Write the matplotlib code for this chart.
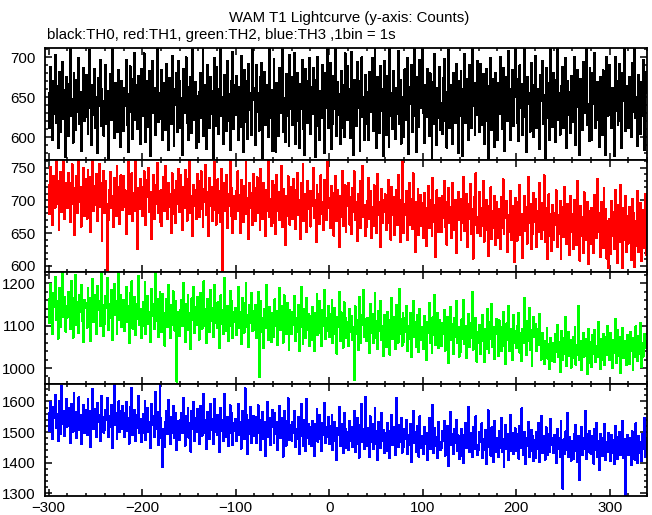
# WAM T1 lightcurve, four energy channels stacked, 1 s bins
import numpy as np
import matplotlib.pyplot as plt
from matplotlib.ticker import MultipleLocator

plt.rcParams['font.family'] = ['Liberation Sans', 'DejaVu Sans']

t0 = -300  # start time of the first bin (s)

th0 = [
    655, 612, 688, 641, 597, 670, 629, 703, 618, 664, 586, 649, 682, 607, 638, 694, 623, 659, 575, 676,
    634, 601, 667, 715, 626, 648, 593, 681, 644, 609, 672, 631, 699, 616, 657, 583, 642, 687, 620, 663,
    678, 625, 604, 653, 709, 637, 590, 666, 628, 685, 611, 650, 580, 674, 639, 697, 614, 660, 633, 602,
    646, 691, 617, 658, 574, 635, 679, 622, 712, 650, 599, 668, 627, 645, 606, 684, 652, 588, 671, 630,
    608, 662, 639, 697, 615, 581, 654, 689, 632, 673, 598, 640, 706, 621, 665, 610, 677, 643, 592, 686,
    660, 626, 705, 636, 594, 670, 648, 613, 683, 577, 651, 695, 630, 662, 603, 641, 714, 619, 656, 637,
    623, 684, 597, 647, 668, 609, 692, 635, 584, 674, 653, 616, 702, 628, 589, 661, 640, 680, 606, 695,
    671, 611, 649, 578, 686, 630, 655, 700, 618, 663, 596, 639, 676, 605, 720, 644, 621, 669, 587, 652,
    594, 657, 681, 624, 643, 710, 601, 666, 633, 585, 690, 645, 612, 675, 629, 658, 573, 699, 637, 614,
    688, 633, 604, 661, 719, 626, 650, 591, 678, 642, 608, 696, 620, 654, 584, 671, 636, 707, 610, 665,
    628, 677, 645, 596, 663, 613, 702, 640, 581, 684, 651, 619, 670, 598, 692, 634, 656, 603, 717, 646,
    662, 590, 690, 631, 656, 608, 675, 627, 693, 574, 647, 682, 615, 666, 637, 600, 713, 624, 659, 583,
    641, 698, 618, 582, 668, 644, 601, 687, 630, 655, 711, 607, 649, 594, 679, 626, 664, 589, 703, 635,
    676, 615, 653, 706, 592, 639, 680, 620, 587, 667, 635, 697, 610, 643, 578, 685, 652, 618, 671, 699,
    604, 663, 629, 687, 648, 575, 672, 614, 701, 638, 596, 658, 624, 691, 647, 580, 681, 636, 715, 612,
    650, 693, 585, 641, 617, 677, 635, 719, 602, 669, 628, 654, 591, 683, 612, 666, 600, 705, 642, 622,
    689, 622, 661, 599, 707, 634, 578, 672, 648, 614, 694, 637, 670, 583, 658, 700, 625, 651, 597, 678,
    617, 657, 596, 682, 631, 664, 699, 608, 646, 716, 622, 586, 675, 640, 605, 689, 633, 660, 576, 696,
    668, 603, 677, 644, 588, 712, 627, 656, 610, 683, 641, 598, 662, 629, 708, 616, 672, 592, 650, 631,
    600, 685, 638, 621, 699, 579, 663, 642, 690, 606, 654, 715, 626, 581, 676, 645, 613, 697, 637, 659,
    711, 630, 593, 666, 625, 686, 651, 601, 680, 636, 572, 669, 616, 704, 648, 590, 662, 624, 688, 609,
    643, 604, 674, 698, 620, 657, 587, 640, 709, 612, 666, 633, 592, 681, 655, 618, 692, 645, 580, 670,
    626, 683, 647, 576, 661, 704, 618, 673, 634, 597, 690, 653, 612, 717, 639, 668, 603, 656, 628, 696,
    658, 607, 692, 633, 615, 679, 591, 646, 685, 620, 562, 664, 630, 699, 609, 673, 646, 588, 681, 632,
    597, 668, 629, 701, 643, 610, 687, 652, 583, 675, 639, 620, 708, 635, 597, 661, 684, 614, 650, 719,
    673, 618, 654, 595, 690, 636, 667, 603, 648, 712, 625, 581, 676, 641, 656, 607, 693, 630, 665, 600,
    636, 702, 611, 660, 628, 585, 678, 645, 696, 617, 653, 574, 687, 624, 668, 639, 597, 712, 649, 613,
    681, 640, 594, 672, 715, 621, 656, 603, 664, 633, 688, 612, 645, 699, 586, 670, 628, 657, 605, 677,
    619, 665, 701, 627, 590, 651, 684, 638, 578, 673, 648, 609, 694, 630, 661, 716, 615, 642, 595, 687,
    654, 596, 680, 641, 706, 611, 637, 669, 622, 588, 676, 652, 603, 684, 634, 657, 578, 700, 626, 663,
    690, 628, 612, 662, 646, 577, 700, 633, 671, 615, 655, 692, 620, 587, 681, 645, 713, 608, 664, 637,
    611, 675, 647, 600, 693, 632, 659, 720, 624, 651, 589, 678, 642, 604, 669, 627, 697, 584, 655, 682,
]

th1 = [
    724, 679, 751, 700, 663, 737, 712, 689, 766, 695, 730, 654, 716, 743, 682, 705, 760, 671, 727, 693,
    688, 742, 710, 667, 726, 755, 694, 719, 647, 703, 737, 681, 764, 698, 721, 660, 714, 749, 676, 733,
    717, 672, 746, 698, 735, 651, 709, 761, 684, 722, 693, 740, 669, 711, 756, 690, 726, 638, 701, 745,
    681, 729, 695, 594, 670, 716, 743, 688, 707, 659, 734, 700, 676, 752, 692, 720, 664, 738, 706, 685,
    737, 690, 715, 648, 703, 758, 679, 724, 696, 741, 668, 711, 684, 762, 698, 625, 719, 686, 733, 707,
    676, 720, 744, 693, 662, 731, 705, 750, 682, 713, 641, 699, 739, 671, 723, 694, 757, 680, 710, 667,
    715, 661, 702, 736, 684, 753, 698, 671, 726, 690, 709, 650, 741, 717, 679, 703, 665, 730, 694, 748,
    682, 738, 700, 655, 721, 688, 747, 710, 669, 733, 697, 762, 680, 706, 645, 724, 691, 715, 672, 740,
    729, 675, 706, 744, 687, 660, 718, 697, 754, 678, 712, 646, 734, 692, 720, 669, 702, 759, 685, 663,
    703, 732, 680, 714, 667, 748, 592, 699, 726, 683, 739, 657, 710, 691, 762, 676, 719, 650, 706, 688,
    672, 715, 744, 684, 708, 650, 731, 693, 667, 722, 697, 758, 679, 704, 641, 726, 688, 711, 662, 740,
    719, 668, 697, 735, 680, 711, 655, 748, 690, 672, 727, 699, 645, 716, 684, 760, 675, 702, 661, 730,
    666, 724, 701, 648, 739, 683, 712, 670, 697, 752, 659, 718, 689, 631, 707, 676, 737, 694, 663, 721,
    705, 671, 733, 689, 656, 716, 742, 677, 700, 641, 726, 683, 756, 668, 710, 693, 651, 729, 687, 714,
    660, 714, 691, 749, 673, 701, 636, 724, 685, 709, 664, 738, 679, 697, 655, 731, 694, 670, 759, 688,
    703, 657, 722, 684, 711, 646, 695, 737, 668, 716, 690, 629, 706, 675, 745, 661, 699, 723, 652, 712,
    691, 726, 663, 705, 649, 719, 682, 744, 670, 698, 638, 710, 686, 729, 657, 702, 753, 675, 693, 646,
    660, 699, 734, 672, 714, 643, 690, 661, 723, 684, 706, 650, 740, 677, 697, 628, 718, 665, 701, 682,
    709, 655, 688, 731, 666, 697, 640, 721, 678, 705, 647, 689, 716, 662, 738, 681, 636, 700, 760, 671,
    650, 694, 677, 714, 639, 685, 727, 663, 702, 656, 741, 680, 621, 697, 669, 718, 647, 690, 708, 661,
    696, 642, 711, 674, 630, 689, 722, 658, 700, 680, 645, 734, 667, 693, 614, 715, 676, 651, 703, 684,
    652, 707, 673, 730, 660, 688, 632, 698, 719, 665, 690, 643, 727, 676, 654, 701, 620, 684, 713, 670,
    689, 640, 702, 666, 736, 653, 680, 710, 629, 694, 672, 725, 648, 686, 611, 705, 663, 741, 675, 650,
    672, 713, 645, 688, 661, 729, 637, 678, 701, 655, 615, 692, 668, 720, 641, 683, 657, 706, 631, 697,
    642, 687, 669, 626, 705, 658, 732, 649, 684, 673, 699, 621, 678, 651, 714, 639, 692, 666, 606, 703,
    686, 638, 697, 660, 724, 647, 679, 612, 671, 707, 653, 690, 634, 735, 665, 694, 625, 680, 648, 711,
    667, 702, 628, 684, 651, 727, 663, 641, 696, 655, 738, 637, 688, 674, 610, 709, 646, 679, 622, 693,
    640, 681, 662, 715, 629, 677, 649, 699, 611, 668, 690, 644, 721, 657, 633, 694, 672, 617, 706, 652,
    679, 626, 701, 650, 685, 632, 729, 661, 608, 692, 645, 675, 620, 712, 664, 639, 698, 603, 683, 657,
    633, 689, 660, 619, 708, 670, 642, 733, 651, 680, 614, 697, 658, 627, 719, 644, 686, 611, 668, 596,
    671, 618, 699, 646, 682, 625, 716, 657, 604, 693, 662, 636, 724, 650, 597, 688, 640, 707, 621, 676,
    634, 690, 655, 609, 702, 644, 681, 598, 669, 630, 714, 621, 662, 696, 607, 685, 648, 627, 709, 616,
]

th2 = [
    1162, 1105, 1198, 1131, 1079, 1177, 1143, 1214, 1112, 1158, 1069, 1135, 1189, 1097, 1151, 1226, 1120, 1167, 1086, 1145,
    1119, 1180, 1137, 1092, 1205, 1148, 1071, 1164, 1126, 1219, 1101, 1155, 1083, 1173, 1132, 1196, 1110, 1061, 1160, 1142,
    1153, 1095, 1188, 1127, 1166, 1063, 1140, 1209, 1108, 1171, 1122, 1080, 1194, 1136, 1157, 1099, 1231, 1117, 1148, 1075,
    1104, 1169, 1141, 1212, 1090, 1150, 1117, 1183, 1066, 1136, 1199, 1124, 1159, 1081, 1143, 1224, 1113, 1172, 1096, 1138,
    1160, 1087, 1132, 1190, 1109, 1147, 1059, 1176, 1121, 1204, 1093, 1138, 1167, 1077, 1152, 1115, 1217, 1102, 1140, 1071,
    1098, 1156, 1117, 1203, 1080, 1141, 1169, 1104, 1133, 1062, 1186, 1123, 1150, 1091, 1227, 1110, 1162, 1072, 1136, 1179,
    1140, 1085, 1174, 1107, 1053, 1129, 1163, 1096, 1195, 1117, 1070, 1148, 1102, 1181, 1124, 1088, 1158, 968, 1133, 1092,
    1076, 1137, 1160, 1098, 1200, 1119, 1061, 1152, 1107, 1173, 1089, 1129, 1045, 1164, 1113, 1191, 1082, 1144, 1101, 1168,
    1128, 1067, 1177, 1116, 1092, 1150, 1204, 1100, 1139, 1058, 1163, 1123, 1085, 1185, 1110, 1141, 1072, 1196, 1105, 1134,
    1094, 1155, 1120, 1047, 1171, 1103, 1136, 1079, 1212, 1115, 1088, 1147, 1064, 1126, 1182, 1099, 1158, 1070, 1131, 1108,
    1141, 1078, 1119, 1190, 1095, 1132, 1056, 1166, 1112, 1083, 1153, 1201, 1097, 1124, 1049, 1149, 1106, 1177, 1087, 1135,
    1090, 1148, 1071, 1126, 1180, 978, 1102, 1157, 1084, 1119, 1046, 1139, 1094, 1195, 1108, 1067, 1143, 1115, 1062, 1129,
    1117, 1074, 1162, 1098, 1135, 1055, 1121, 1188, 1089, 1146, 1103, 1060, 1171, 1111, 1080, 1153, 1127, 1043, 1137, 1093,
    1079, 1133, 1101, 1170, 1063, 1118, 1086, 1149, 1040, 1125, 1192, 1097, 1057, 1140, 1110, 1071, 1165, 1090, 1128, 1052,
    1122, 1065, 1144, 1093, 1039, 1130, 1106, 1174, 1077, 1115, 1159, 1083, 1051, 1137, 1099, 1185, 1068, 1118, 1087, 1147,
    1073, 1128, 1092, 1161, 1058, 1110, 1142, 1081, 1034, 1120, 1096, 1179, 1064, 1131, 1102, 1048, 1155, 1088, 1117, 1070,
    1108, 1052, 1139, 1085, 1123, 1067, 1097, 972, 1145, 1079, 1114, 1042, 1168, 1093, 1060, 1126, 1101, 1183, 1074, 1116,
    1063, 1119, 1091, 1036, 1150, 1082, 1127, 1058, 1104, 1176, 1070, 1111, 1045, 1135, 1087, 1157, 1066, 1098, 1029, 1124,
    1102, 1049, 1133, 1077, 1112, 1031, 1094, 1165, 1068, 1120, 1083, 1044, 1148, 1099, 1060, 1187, 1080, 1116, 1053, 1129,
    1061, 1118, 1084, 1147, 1040, 1100, 1069, 1130, 1025, 1093, 1159, 1072, 1108, 1050, 1124, 1081, 1037, 1139, 1097, 1066,
    1096, 1044, 1123, 1071, 1018, 1109, 1082, 1154, 1060, 1101, 1036, 1120, 1077, 1173, 1055, 1092, 1130, 1048, 1113, 1069,
    1052, 1106, 1079, 1137, 1041, 1093, 1063, 1121, 1012, 1087, 1144, 1066, 1104, 1033, 1118, 1074, 1158, 1059, 1096, 1027,
    1090, 1038, 1115, 1068, 1161, 1056, 1099, 1024, 1083, 1128, 1049, 1107, 1071, 1180, 1043, 1094, 1061, 1119, 1015, 1086,
    1058, 1101, 1032, 1087, 1126, 1064, 1014, 1093, 1045, 1140, 1076, 1035, 1109, 1068, 1151, 1050, 1097, 1021, 1081, 1116,
    1084, 1029, 1112, 1061, 1040, 1097, 1133, 1053, 1077, 1009, 1105, 1066, 1146, 1039, 1092, 1074, 1019, 1124, 1058, 1088,
    1047, 1099, 1071, 1130, 1036, 1083, 1016, 1092, 1058, 1166, 1075, 1031, 1110, 1063, 1141, 1042, 1089, 1005, 1080, 1121,
    1072, 1104, 1039, 1091, 1055, 1128, 1066, 1020, 1083, 1047, 1010, 1063, 1035, 1094, 1022, 1057, 998, 1071, 1041, 1016,
    1058, 1013, 1079, 1037, 1102, 1025, 1061, 990, 1046, 1088, 1019, 1071, 1032, 1120, 1004, 1053, 1085, 1028, 1066, 1001,
    1023, 1074, 1042, 1096, 1008, 1055, 1031, 1147, 1018, 1064, 995, 1050, 1083, 1027, 1069, 1039, 985, 1092, 1047, 1012,
    1061, 1003, 1077, 1034, 1090, 1015, 1052, 1026, 1109, 1041, 997, 1068, 1020, 1081, 1046, 1007, 1073, 1030, 1099, 1044,
    1019, 1082, 1048, 1000, 1065, 1036, 1115, 1011, 1057, 1089, 1029, 1072, 988, 1051, 1094, 1024, 1063, 1041, 1007, 1078,
    1055, 1010, 1086, 1039, 1071, 995, 1062, 1025, 1098, 1044, 1016, 1075, 1033, 1106, 1002, 1058, 1027, 1081, 1047, 1064,
]

th3 = [
    1563, 1504, 1598, 1531, 1476, 1582, 1547, 1621, 1512, 1559, 1470, 1537, 1603, 1495, 1651, 1526, 1570, 1488, 1541, 1609,
    1518, 1580, 1533, 1465, 1592, 1549, 1501, 1628, 1524, 1566, 1479, 1545, 1613, 1508, 1556, 1460, 1537, 1588, 1497, 1572,
    1552, 1490, 1607, 1529, 1568, 1452, 1540, 1640, 1509, 1575, 1521, 1483, 1596, 1533, 1557, 1471, 1619, 1514, 1548, 1498,
    1506, 1573, 1540, 1611, 1484, 1551, 1517, 1590, 1448, 1535, 1656, 1522, 1563, 1478, 1544, 1600, 1499, 1569, 1511, 1586,
    1561, 1483, 1530, 1599, 1505, 1547, 1462, 1581, 1520, 1644, 1491, 1538, 1572, 1470, 1555, 1512, 1617, 1497, 1543, 1466,
    1496, 1559, 1518, 1603, 1474, 1541, 1578, 1500, 1533, 1447, 1591, 1523, 1554, 1483, 1630, 1509, 1566, 1458, 1537, 1661,
    1545, 1479, 1385, 1510, 1451, 1532, 1569, 1493, 1604, 1518, 1462, 1550, 1498, 1586, 1527, 1480, 1562, 1441, 1535, 1491,
    1474, 1538, 1563, 1496, 1612, 1520, 1456, 1553, 1503, 1580, 1481, 1529, 1436, 1568, 1511, 1597, 1472, 1546, 1499, 1574,
    1530, 1462, 1585, 1514, 1488, 1550, 1625, 1497, 1540, 1445, 1566, 1522, 1477, 1591, 1506, 1543, 1460, 1608, 1501, 1536,
    1491, 1557, 1518, 1434, 1579, 1502, 1539, 1472, 1623, 1515, 1484, 1548, 1453, 1526, 1587, 1496, 1561, 1458, 1531, 1505,
    1544, 1470, 1517, 1592, 1489, 1533, 1446, 1569, 1510, 1477, 1643, 1502, 1555, 1429, 1541, 1494, 1582, 1463, 1527, 1551,
    1486, 1550, 1464, 1525, 1587, 1497, 1538, 1441, 1511, 1566, 1478, 1534, 1423, 1506, 1599, 1483, 1545, 1458, 1519, 1573,
    1518, 1465, 1562, 1493, 1532, 1440, 1508, 1585, 1479, 1547, 1502, 1420, 1569, 1497, 1456, 1536, 1611, 1474, 1522, 1485,
    1472, 1533, 1498, 1570, 1450, 1510, 1477, 1548, 1427, 1519, 1592, 1487, 1456, 1541, 1503, 1437, 1608, 1482, 1527, 1461,
    1515, 1454, 1537, 1480, 1421, 1525, 1496, 1574, 1469, 1512, 1557, 1476, 1438, 1530, 1490, 1595, 1463, 1518, 1485, 1549,
    1462, 1521, 1483, 1556, 1440, 1503, 1532, 1471, 1410, 1514, 1490, 1581, 1455, 1527, 1494, 1431, 1562, 1476, 1509, 1448,
    1499, 1441, 1536, 1470, 1515, 1452, 1488, 1569, 1434, 1506, 1546, 1462, 1416, 1522, 1480, 1593, 1467, 1511, 1443, 1615,
    1455, 1512, 1476, 1418, 1551, 1469, 1527, 1443, 1495, 1578, 1461, 1503, 1408, 1533, 1482, 1449, 1562, 1472, 1508, 1430,
    1497, 1437, 1530, 1465, 1505, 1414, 1483, 1556, 1458, 1517, 1474, 1426, 1610, 1489, 1451, 1524, 1468, 1547, 1433, 1499,
    1452, 1510, 1478, 1541, 1427, 1490, 1459, 1525, 1401, 1486, 1568, 1463, 1500, 1436, 1519, 1470, 1420, 1551, 1482, 1447,
    1488, 1429, 1517, 1461, 1496, 1409, 1475, 1546, 1444, 1503, 1466, 1590, 1432, 1512, 1456, 1485, 1415, 1532, 1468, 1440,
    1446, 1503, 1470, 1537, 1423, 1484, 1451, 1520, 1390, 1478, 1566, 1458, 1495, 1427, 1511, 1463, 1541, 1437, 1489, 1412,
    1483, 1421, 1510, 1455, 1399, 1490, 1529, 1449, 1474, 1583, 1436, 1497, 1461, 1418, 1518, 1471, 1443, 1552, 1458, 1426,
    1441, 1499, 1466, 1528, 1414, 1478, 1440, 1507, 1396, 1485, 1571, 1452, 1490, 1423, 1515, 1460, 1402, 1536, 1473, 1434,
    1480, 1419, 1503, 1448, 1545, 1435, 1476, 1385, 1468, 1524, 1444, 1492, 1409, 1471, 1556, 1437, 1498, 1428, 1464, 1512,
    1437, 1494, 1458, 1413, 1520, 1447, 1577, 1470, 1426, 1501, 1394, 1482, 1455, 1533, 1419, 1466, 1508, 1439, 1487, 1405,
    1474, 1416, 1499, 1443, 1530, 1402, 1465, 1552, 1430, 1488, 1451, 1410, 1515, 1460, 1424, 1493, 1436, 1544, 1457, 1482,
    1433, 1491, 1452, 1398, 1510, 1445, 1481, 1420, 1537, 1463, 1315, 1476, 1428, 1502, 1440, 1562, 1417, 1484, 1449, 1407,
    1471, 1411, 1495, 1437, 1523, 1458, 1402, 1486, 1344, 1464, 1517, 1425, 1480, 1446, 1569, 1413, 1492, 1434, 1505, 1451,
    1429, 1487, 1448, 1397, 1509, 1440, 1531, 1418, 1470, 1376, 1495, 1455, 1421, 1482, 1444, 1527, 1408, 1466, 1436, 1498,
    1467, 1405, 1490, 1432, 1473, 1395, 1519, 1445, 1412, 1484, 1438, 1501, 1424, 1459, 1536, 1416, 1477, 1290, 1451, 1489,
    1424, 1482, 1441, 1391, 1503, 1436, 1470, 1410, 1528, 1449, 1399, 1488, 1431, 1466, 1406, 1495, 1443, 1547, 1420, 1476,
]

series = [th0, th1, th2, th3]
colors = ['black', '#ff0000', '#00ff00', '#0000ff']
ylims = [(572, 712), (591, 762), (963, 1227), (1292, 1658)]
ymajor = [50, 50, 100, 100]
yminor = [10, 10, 20, 20]

fig = plt.figure(figsize=(6.52, 5.15), dpi=100)
left, right = 45 / 652, 647 / 652
top, bottom = 1 - 47.7 / 515, 1 - 495.7 / 515
h = (top - bottom) / 4

for i, y in enumerate(series):
    ax = fig.add_axes([left, top - (i + 1) * h, right - left, h])
    x = t0 + np.arange(len(y))
    ax.plot(x, y, drawstyle='steps-mid', color=colors[i], lw=0.72, antialiased=False)
    ax.set_xlim(-304, 340)
    ax.set_ylim(*ylims[i])
    ax.xaxis.set_major_locator(MultipleLocator(100))
    ax.xaxis.set_minor_locator(MultipleLocator(20))
    ax.yaxis.set_major_locator(MultipleLocator(ymajor[i]))
    ax.yaxis.set_minor_locator(MultipleLocator(yminor[i]))
    ax.tick_params(which='both', direction='in', top=True, right=True, width=1.1,
                   labelsize=10.8, colors='black')
    ax.tick_params(which='major', length=5)
    ax.tick_params(which='minor', length=2.5)
    ax.tick_params(axis='y', pad=7)
    ax.tick_params(axis='x', pad=4)
    for s in ax.spines.values():
        s.set_linewidth(1.3)
    if i < 3:
        ax.tick_params(labelbottom=False)

fig.text(0.535, 1 - 18 / 515, 'WAM T1 Lightcurve (y-axis: Counts)', ha='center', va='center', fontsize=10.8)
fig.text(47 / 652, 1 - 35 / 515, 'black:TH0, red:TH1, green:TH2, blue:TH3 ,1bin = 1s',
         ha='left', va='center', fontsize=10.8)

fig.savefig('out.png', dpi=100)
